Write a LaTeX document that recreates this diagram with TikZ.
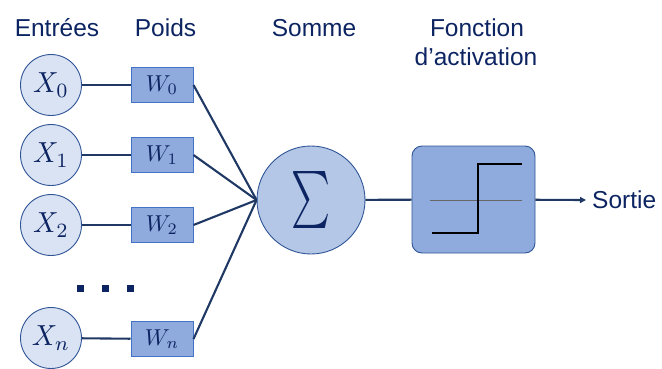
\documentclass[tikz,border=0pt]{standalone}
\usepackage{fontspec}
\setmainfont{Liberation Sans}
\usepackage{graphicx}
\usetikzlibrary{arrows.meta}
\definecolor{navy}{HTML}{0C2461}
\definecolor{linec}{HTML}{1F3864}
\definecolor{cfill}{HTML}{DAE3F3}
\definecolor{cborder}{HTML}{2F5597}
\definecolor{bfill}{HTML}{8FAADC}
\definecolor{bborder}{HTML}{4472C4}
\definecolor{sfill}{HTML}{B4C7E7}
\newcommand{\inmath}[1]{\scalebox{2.8}[2.9]{$#1$}}
\newcommand{\wmath}[1]{\scalebox{2.3}[2.3]{$#1$}}
\begin{document}
\begin{tikzpicture}[x=1pt,y=-1pt,
  inp/.style={circle,draw=cborder,fill=cfill,line width=0.9pt,minimum size=61pt,inner sep=0pt,text=navy},
  wbox/.style={rectangle,draw=bborder,fill=bfill,line width=1pt,minimum width=62pt,minimum height=35pt,inner sep=0pt,text=navy},
  conn/.style={draw=linec,line width=2.1pt},
  hdr/.style={text=navy,font=\fontsize{24.5}{29}\selectfont,align=center,inner sep=0pt}]
\useasboundingbox (0,0) rectangle (662,368);
% headers
\node[hdr,anchor=base] (h1) at (57,36) {Entrées};
\node[hdr,anchor=base] (h2) at (165.5,36) {Poids};
\node[hdr,anchor=base] (h3) at (314,36) {Somme};
\node[hdr,anchor=base] (h4a) at (477,36) {Fonction};
\node[hdr,anchor=base] (h4b) at (476,65) {d’activation};
% inputs
\node[inp] (x0) at (51,85) {\inmath{X_0}};
\node[inp] (x1) at (51,155) {\inmath{X_1}};
\node[inp] (x2) at (51,225) {\inmath{X_2}};
\node[inp] (xn) at (51,338) {\inmath{X_n}};
% weights
\node[wbox] (w0) at (162,85) {\wmath{W_0}};
\node[wbox] (w1) at (162,155) {\wmath{W_1}};
\node[wbox] (w2) at (162,225) {\wmath{W_2}};
\node[wbox] (wn) at (162,339) {\wmath{W_n}};
% dots
\foreach \xx/\nm in {80.5/d1,105/d2,130/d3}
  \node[fill=navy,minimum size=7pt,inner sep=0pt] (\nm) at (\xx,288.5) {};
% sum
\node[circle,draw=cborder,fill=sfill,line width=0.9pt,minimum size=108pt,inner sep=0pt,text=navy] (s) at (311,200)
  {\scalebox{3.7}[5.7]{$\sum$}};
% activation
\node[rectangle,rounded corners=10pt,draw=cborder,fill=bfill,line width=0.9pt,minimum width=123pt,minimum height=107pt,inner sep=0pt] (a) at (473.5,199.5) {};
\coordinate (gl) at (430,200);
\coordinate (gr) at (522,200);
\draw[draw=gray!80!black,line width=0.8pt] (gl) -- (gr);
\coordinate (s1) at (432,233);
\coordinate (s2) at (478,233);
\coordinate (s3) at (478,164);
\coordinate (s4) at (522,164);
\draw[black,line width=2.2pt] (s1) -- (s2) -- (s3) -- (s4);
% output
\node[text=navy,font=\fontsize{24.5}{29}\selectfont,anchor=west,inner sep=0pt] (out) at (592,200) {Sortie};
% connectors
\foreach \i in {0,1,2,n} {
  \draw[conn] (x\i) -- (w\i);
  \draw[conn] (w\i.east) -- (s.west);
}
\draw[conn] (s) -- (a);
\coordinate (ae) at (586,200);
\draw[conn,-{Triangle[length=6pt,width=6pt]}] (a) -- (ae);
\end{tikzpicture}
\end{document}
